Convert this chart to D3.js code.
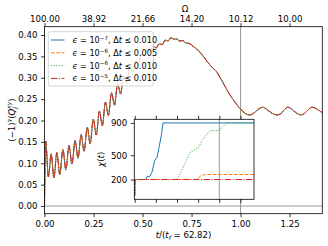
<!DOCTYPE html>
<html>
<head>
<meta charset="utf-8">
<script src="https://cdn.jsdelivr.net/npm/d3@7"></script>
<style>
  body { margin: 0; background: #fff; }
  svg { display: block; font-family: "DejaVu Sans", sans-serif; }
</style>
</head>
<body>
<div id="chart"></div>
<script>
// main curve, t/t_f against (-1)^γ(Q_j^xy), shared by the four runs
const tMain = [0.000, 0.006, 0.020, 0.034, 0.048, 0.063, 0.078, 0.094, 0.109, 0.125,
  0.140, 0.156, 0.171, 0.187, 0.202, 0.218, 0.233, 0.249, 0.264, 0.280,
  0.295, 0.311, 0.326, 0.342, 0.357, 0.373, 0.388, 0.404, 0.419, 0.435,
  0.450, 0.466, 0.480, 0.495, 0.510, 0.525, 0.540, 0.555, 0.570, 0.585,
  0.600, 0.615, 0.630, 0.645, 0.660, 0.675, 0.690, 0.705, 0.720, 0.740,
  0.760, 0.780, 0.800, 0.820, 0.840, 0.860, 0.875, 0.890, 0.910, 0.930,
  0.950, 0.970, 0.990, 1.010, 1.030, 1.045, 1.060, 1.080, 1.100, 1.112,
  1.125, 1.145, 1.165, 1.185, 1.205, 1.225, 1.240, 1.255, 1.275, 1.295,
  1.308, 1.325, 1.345, 1.365, 1.385, 1.405, 1.417];
const qMain = [0.000, 0.152, 0.068, 0.122, 0.066, 0.125, 0.074, 0.132, 0.085, 0.142,
  0.098, 0.153, 0.112, 0.167, 0.128, 0.184, 0.146, 0.203, 0.166, 0.222,
  0.188, 0.243, 0.212, 0.265, 0.236, 0.286, 0.262, 0.305, 0.288, 0.324,
  0.313, 0.340, 0.336, 0.356, 0.352, 0.368, 0.362, 0.374, 0.370, 0.380,
  0.377, 0.388, 0.386, 0.394, 0.390, 0.391, 0.386, 0.387, 0.382, 0.380,
  0.373, 0.366, 0.356, 0.344, 0.332, 0.322, 0.316, 0.305, 0.289, 0.272,
  0.257, 0.244, 0.232, 0.222, 0.215, 0.213, 0.215, 0.222, 0.229, 0.231,
  0.229, 0.222, 0.216, 0.213, 0.216, 0.226, 0.231, 0.229, 0.221, 0.215,
  0.213, 0.216, 0.225, 0.231, 0.228, 0.222, 0.218];

// legend pieces
const epsExp = ['\u22127', '\u22126', '\u22126', '\u22125'];
const dtMax = ['0.010', '0.005', '0.010', '0.010'];

// axes ticks
const tTicks = [0, 0.25, 0.5, 0.75, 1.0, 1.25];
const omegaLabels = ['100.00', '38.92', '21.66', '14.20', '10.12', '10.00'];
const qTicks = [0, 0.05, 0.1, 0.15, 0.2, 0.25, 0.3, 0.35, 0.4];

// inset: chi(t), [t/t_f, chi]
const chiEps7 = [[0, 0], [0.003, 200], [0.134, 200], [0.145, 237], [0.181, 240], [0.204, 290],
  [0.236, 435], [0.264, 475], [0.284, 579], [0.314, 743], [0.335, 900], [1.42, 900]];
const chiEps6a = [[0, 0], [0.003, 200], [0.716, 200], [0.75, 215], [0.78, 245], [0.835, 262], [1.42, 262]];
const chiEps6b = [[0, 0], [0.003, 200], [0.5, 200], [0.539, 270], [0.598, 414], [0.657, 537],
  [0.697, 558], [0.757, 599], [0.795, 682], [0.855, 764], [0.902, 805], [0.993, 805],
  [1.032, 846], [1.091, 900], [1.42, 900]];
const chiEps5 = [[0, 0], [0.003, 200], [1.42, 200]];
const chiTicks = [200, 500, 900];

const colors = ['#1f77b4', '#ff7f0e', '#2ca02c', '#d62728'];
const dashes = [null, '3.7,1.6', '1,1.65', '6.4,1.6,1,1.6'];
const fs = 8.6;

const svg = d3.select('#chart').append('svg').attr('width', 328).attr('height', 246);

const x = d3.scaleLinear().domain([0, 1.417]).range([44.5, 322.3]);
const y = d3.scaleLinear().domain([-0.018, 0.4195]).range([213.7, 26.7]);

// rich text helper: parts {t, i: italic, sup, sub, dx}
const rich = (sel, parts, size) => {
  let shift = 0;
  parts.forEach(p => {
    const target = p.sup ? -size * 0.4 : p.sub ? size * 0.25 : 0;
    const ts = sel.append('tspan').text(p.t).attr('dy', target - shift);
    if (p.i) ts.style('font-style', 'italic');
    if (p.sup || p.sub) ts.attr('font-size', size * 0.7);
    if (p.dx) ts.attr('dx', p.dx);
    shift = target;
  });
};

svg.append('defs').append('clipPath').attr('id', 'clipMain')
  .append('rect').attr('x', 44.5).attr('y', 26.7).attr('width', 322.3 - 44.5).attr('height', 213.7 - 26.7);

// reference lines
svg.append('line').attr('x1', 44.5).attr('x2', 322.3).attr('y1', y(0)).attr('y2', y(0))
  .attr('stroke', '#808080').attr('stroke-width', 0.8);
svg.append('line').attr('x1', x(1)).attr('x2', x(1)).attr('y1', 26.7).attr('y2', 213.7)
  .attr('stroke', '#808080').attr('stroke-width', 0.8);

// curves
const line = d3.line().x(d => x(d[0])).y(d => y(d[1])).curve(d3.curveMonotoneX);
const mainData = tMain.map((t, i) => [t, qMain[i]]);
const curves = svg.append('g').attr('clip-path', 'url(#clipMain)');
colors.forEach((c, i) => {
  curves.append('path').attr('d', line(mainData)).attr('fill', 'none')
    .attr('stroke', c).attr('stroke-width', 1).attr('stroke-dasharray', dashes[i]);
});

// axes
const styleAxis = g => {
  g.select('.domain').remove();
  g.selectAll('.tick line').attr('stroke', '#000').attr('stroke-width', 0.8);
  g.selectAll('.tick text').attr('fill', '#000').attr('font-size', fs).attr('font-family', '"DejaVu Sans", sans-serif');
};
svg.append('g').attr('transform', 'translate(0,213.7)')
  .call(d3.axisBottom(x).tickValues(tTicks).tickFormat(d3.format('.2f')).tickSize(3.5).tickPadding(3.5))
  .call(styleAxis);
svg.append('g').attr('transform', 'translate(0,26.7)')
  .call(d3.axisTop(x).tickValues(tTicks).tickFormat((d, i) => omegaLabels[i]).tickSize(3.5).tickPadding(1.5))
  .call(styleAxis);
svg.append('g').attr('transform', 'translate(44.5,0)')
  .call(d3.axisLeft(y).tickValues(qTicks).tickFormat(d3.format('.2f')).tickSize(3.5).tickPadding(3.5))
  .call(styleAxis);
svg.append('rect').attr('x', 44.5).attr('y', 26.7).attr('width', 322.3 - 44.5).attr('height', 213.7 - 26.7)
  .attr('fill', 'none').attr('stroke', '#000').attr('stroke-width', 0.8);

// axis labels
svg.append('text').attr('x', 185).attr('y', 12).attr('text-anchor', 'middle').attr('font-size', fs).text('\u03a9');
const xl = svg.append('text').attr('x', 183.5).attr('y', 237.5).attr('text-anchor', 'middle').attr('font-size', fs);
rich(xl, [{ t: 't', i: true }, { t: '/(' }, { t: 't', i: true }, { t: 'f', i: true, sub: true }, { t: ' = 62.82)' }], fs);
const yl = svg.append('text').attr('transform', 'translate(14.5,120) rotate(-90)').attr('text-anchor', 'middle').attr('font-size', fs);
rich(yl, [{ t: '(\u22121)' }, { t: '\u03b3', i: true, sup: true }, { t: '(' }, { t: 'Q', i: true },
  { t: 'j', i: true, sub: true }, { t: 'xy', i: true, sup: true, dx: -1.8 }, { t: ')' }], fs);

// legend
const lfs = 8.1;
const lg = svg.append('g');
lg.append('rect').attr('x', 48.3).attr('y', 31.7).attr('width', 105).attr('height', 54.3).attr('rx', 2)
  .attr('fill', '#fff').attr('fill-opacity', 0.8).attr('stroke', '#cccccc').attr('stroke-width', 0.8);
colors.forEach((c, i) => {
  const ly = 40 + i * 12.8;
  lg.append('line').attr('x1', 51).attr('x2', 64.5).attr('y1', ly).attr('y2', ly)
    .attr('stroke', c).attr('stroke-width', 1).attr('stroke-dasharray', dashes[i]);
  const t = lg.append('text').attr('x', 72.5).attr('y', ly + 3).attr('font-size', lfs);
  rich(t, [{ t: '\u03f5', i: true }, { t: ' = 10' }, { t: epsExp[i], sup: true }, { t: ', \u0394' },
    { t: 't', i: true }, { t: ' \u2264 ' + dtMax[i] }], lfs);
});

// inset
const xi = d3.scaleLinear().domain([-0.005, 1.41]).range([134.3, 254]);
const yi = d3.scaleLinear().domain([-45, 945]).range([199.3, 119.3]);
const inset = svg.append('g');
inset.append('rect').attr('x', 134.3).attr('y', 119.3).attr('width', 254 - 134.3).attr('height', 80)
  .attr('fill', '#fff');
svg.select('defs').append('clipPath').attr('id', 'clipInset')
  .append('rect').attr('x', 134.3).attr('y', 119.3).attr('width', 254 - 134.3).attr('height', 80);
inset.append('line').attr('x1', xi(1)).attr('x2', xi(1)).attr('y1', 119.3).attr('y2', 199.3)
  .attr('stroke', '#808080').attr('stroke-width', 0.8);
const iline = d3.line().x(d => xi(d[0])).y(d => yi(d[1]));
const ic = inset.append('g').attr('clip-path', 'url(#clipInset)');
[chiEps7, chiEps6a, chiEps6b, chiEps5].forEach((s, i) => {
  ic.append('path').attr('d', iline(s)).attr('fill', 'none')
    .attr('stroke', colors[i]).attr('stroke-width', 1).attr('stroke-dasharray', dashes[i]);
});
inset.append('g').attr('transform', 'translate(0,199.3)')
  .call(d3.axisBottom(xi).tickValues(tTicks).tickFormat('').tickSize(3.5)).call(styleAxis);
inset.append('g').attr('transform', 'translate(0,119.3)')
  .call(d3.axisTop(xi).tickValues(tTicks).tickFormat('').tickSize(3.5)).call(styleAxis);
inset.append('g').attr('transform', 'translate(134.3,0)')
  .call(d3.axisLeft(yi).tickValues(chiTicks).tickSize(3.5).tickPadding(3.5)).call(styleAxis);
inset.append('rect').attr('x', 134.3).attr('y', 119.3).attr('width', 254 - 134.3).attr('height', 80)
  .attr('fill', 'none').attr('stroke', '#000').attr('stroke-width', 0.8);
const il = inset.append('text').attr('transform', 'translate(104,159.3) rotate(-90)')
  .attr('text-anchor', 'middle').attr('font-size', fs);
rich(il, [{ t: '\u03c7', i: true }, { t: '(' }, { t: 't', i: true }, { t: ')' }], fs);
</script>
</body>
</html>
